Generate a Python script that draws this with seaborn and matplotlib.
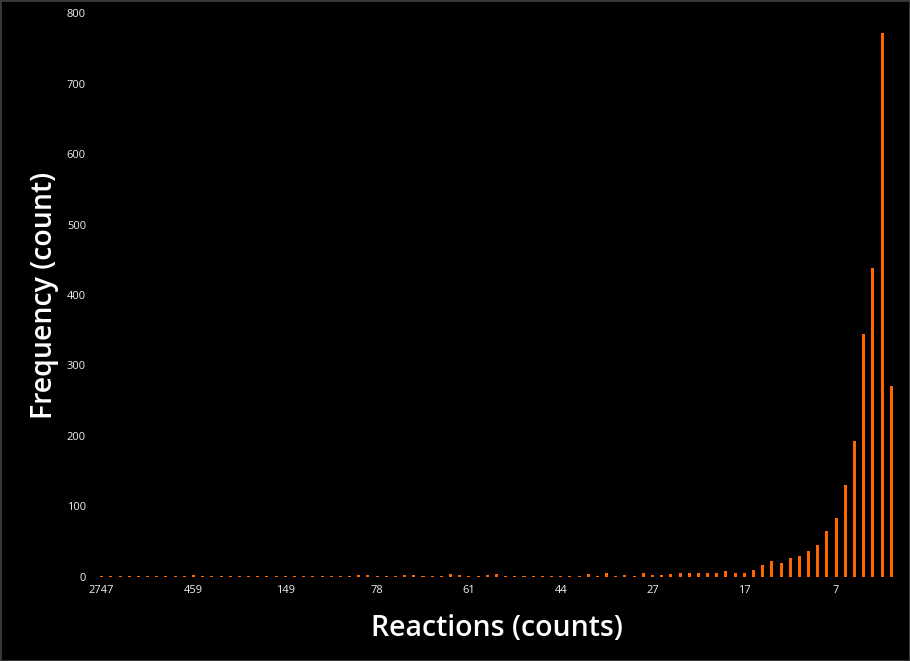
import matplotlib
matplotlib.use("Agg")
import matplotlib.pyplot as plt
import matplotlib.patches as mpatches
import seaborn as sns
import pandas as pd

# Reaction counts (categories, in display order) and their frequencies
reactions = [2747, 2101, 1650, 1322, 1045, 902, 781, 640, 572, 503,
             459, 398, 342, 301, 267, 233, 210, 188, 172, 160,
             149, 139, 128, 119, 112, 104, 97, 91, 86, 82,
             78, 76, 74, 72, 70, 68, 67, 65, 64, 62,
             61, 59, 57, 56, 54, 52, 50, 49, 47, 46,
             44, 42, 40, 39, 37, 35, 33, 31, 30, 28,
             27, 26, 25, 24, 23, 22, 21, 20, 19, 18,
             17, 16, 15, 14, 13, 12, 11, 10, 9, 8,
             7, 6, 5, 4, 3, 2, 1]
frequency = [1, 1, 1, 1, 1, 1, 1, 1, 1, 1,
             3, 1, 1, 1, 1, 1, 1, 1, 1, 1,
             1, 1, 1, 1, 1, 2, 1, 1, 3, 3,
             1, 1, 1, 3, 3, 1, 1, 1, 4, 3,
             1, 1, 3, 4, 1, 1, 1, 1, 1, 1,
             1, 1, 1, 4, 1, 6, 1, 3, 2, 5,
             3, 3, 4, 5, 5, 5, 5, 5, 8, 5,
             5, 10, 17, 23, 20, 27, 30, 37, 45, 65,
             83, 131, 193, 345, 439, 771, 271]
shown_tick_labels = ["2747", "459", "149", "78", "61", "44", "27", "17", "7"]
y_ticks = [0, 100, 200, 300, 400, 500, 600, 700, 800]

df = pd.DataFrame({"reactions": [str(r) for r in reactions], "frequency": frequency})

sns.set_theme(style="dark")
plt.rcParams["font.family"] = ["Open Sans", "DejaVu Sans"]

fig = plt.figure(figsize=(9.10, 6.61), dpi=100, facecolor="black")
ax = fig.add_axes([0.1067, 0.1271, 0.8777, 0.8532])
ax.set_facecolor("black")

sns.barplot(data=df, x="reactions", y="frequency", order=df["reactions"].tolist(),
            color="#FF6600", saturation=1, width=0.33, linewidth=0, edgecolor="#FF6600", ax=ax)

ax.set_xlim(-0.5, len(reactions) - 0.5)
ax.set_ylim(0, 800)
ax.set_yticks(y_ticks)
ax.set_yticklabels([str(v) for v in y_ticks])
ax.set_xticks(list(range(0, len(reactions), 10)))
ax.set_xticklabels(shown_tick_labels)
ax.tick_params(axis="both", length=0, colors="#f0f0f0", labelsize=8)
ax.tick_params(axis="y", pad=8)
ax.tick_params(axis="x", pad=6)
for s in ax.spines.values():
    s.set_visible(False)
ax.grid(False)

ax.set_xlabel("Reactions (counts)", color="white", fontsize=20.5, fontweight="semibold", labelpad=13)
ax.set_ylabel("Frequency (count)", color="white", fontsize=20.5, fontweight="semibold", labelpad=6)

fig.patches.append(mpatches.Rectangle((0, 0), 1, 1, transform=fig.transFigure, fill=False,
                                      edgecolor="#3a3a3a", linewidth=2))

fig.savefig("out.png", dpi=100, facecolor="black")
